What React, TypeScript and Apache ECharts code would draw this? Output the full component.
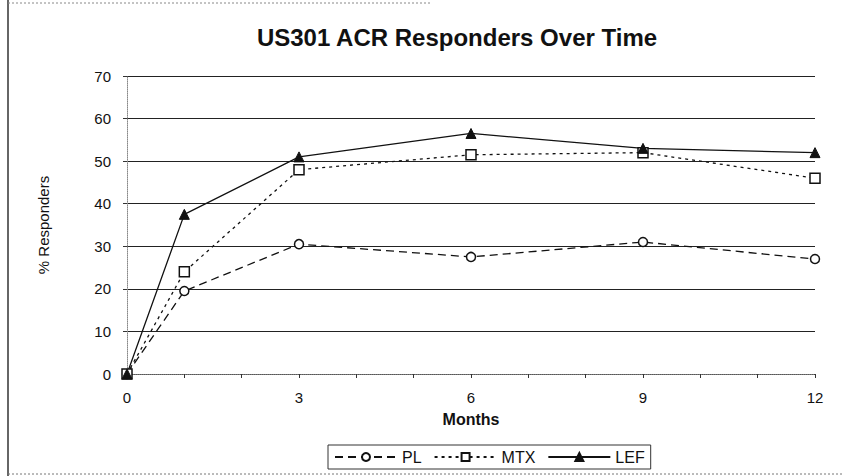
import React, { useEffect, useRef } from "react";
import * as echarts from "echarts";

const months = [0, 1, 3, 6, 9, 12];
const plValues = [0, 19.5, 30.5, 27.5, 31, 27];
const mtxValues = [0, 24, 48, 51.5, 52, 46];
const lefValues = [0, 37.5, 51, 56.5, 53, 52];
const seriesNames = ["PL", "MTX", "LEF"];
const xTickLabels = ["0", "3", "6", "9", "12"];

const FONT = "'Liberation Sans', Arial, sans-serif";

export default function App() {
  const ref = useRef<HTMLDivElement>(null);
  useEffect(() => {
    if (!ref.current) return;
    const chart = echarts.init(ref.current, undefined, { renderer: "svg" });
    const pair = (vals: number[]) => months.map((m, i) => [m, vals[i]]);
    chart.setOption({
      animation: false,
      backgroundColor: "#ffffff",
      textStyle: { fontFamily: FONT, color: "#111" },
      title: {
        text: "US301 ACR Responders Over Time",
        left: 452,
        textAlign: "center",
        top: 20,
        textStyle: { fontFamily: FONT, fontSize: 24, fontWeight: "bold", color: "#111" },
      },
      grid: { left: 127, right: 28, top: 76, bottom: 102 },
      xAxis: {
        type: "value",
        min: 0,
        max: 12,
        interval: 1,
        name: "Months",
        nameLocation: "middle",
        nameGap: 37,
        nameTextStyle: { fontFamily: FONT, fontSize: 16, fontWeight: "bold", color: "#111" },
        axisLine: { show: true, lineStyle: { color: "#777", type: "dotted", width: 1 } },
        axisTick: { show: true, length: 4, inside: false, lineStyle: { color: "#333" } },
        axisLabel: {
          margin: 16,
          fontFamily: FONT,
          fontSize: 15,
          color: "#111",
          formatter: (v: number) => (xTickLabels.includes(String(v)) ? String(v) : ""),
        },
        splitLine: { show: false },
      },
      yAxis: {
        type: "value",
        min: 0,
        max: 70,
        interval: 10,
        name: "% Responders",
        nameLocation: "middle",
        nameGap: 76,
        nameTextStyle: { fontFamily: FONT, fontSize: 15, color: "#111" },
        axisLine: { show: true, lineStyle: { color: "#888", type: "dotted", width: 1 } },
        axisTick: { show: true, length: 4, lineStyle: { color: "#333" } },
        axisLabel: { margin: 16, fontFamily: FONT, fontSize: 15, color: "#111" },
        splitLine: { show: true, lineStyle: { color: "#222", width: 1, type: "solid" } },
      },
      legend: {
        data: seriesNames,
        left: 328,
        top: 445,
        orient: "horizontal",
        itemWidth: 62,
        itemHeight: 10,
        itemGap: 12,
        padding: [4, 6, 4, 6],
        borderColor: "#333",
        borderWidth: 1,
        textStyle: { fontFamily: FONT, fontSize: 16, color: "#111" },
      },
      series: [
        {
          name: seriesNames[0],
          type: "line",
          data: pair(plValues),
          symbol: "circle",
          symbolSize: 9,
          lineStyle: { color: "#111", width: 1.3, type: [8, 5] },
          itemStyle: { color: "#fff", borderColor: "#111", borderWidth: 1.5 },
        },
        {
          name: seriesNames[1],
          type: "line",
          data: pair(mtxValues),
          symbol: "rect",
          symbolSize: 10,
          lineStyle: { color: "#111", width: 1.3, type: [3, 4] },
          itemStyle: { color: "#fff", borderColor: "#111", borderWidth: 1.5 },
        },
        {
          name: seriesNames[2],
          type: "line",
          data: pair(lefValues),
          symbol: "triangle",
          symbolSize: 10,
          lineStyle: { color: "#111", width: 1.3, type: "solid" },
          itemStyle: { color: "#111", borderColor: "#111", borderWidth: 1 },
        },
      ],
      graphic: [
        { type: "line", shape: { x1: 8, y1: 0, x2: 8, y2: 476 }, style: { stroke: "#333", lineWidth: 1.5 } },
        { type: "line", shape: { x1: 8, y1: 3, x2: 430, y2: 3 }, style: { stroke: "#888", lineWidth: 1, lineDash: [2, 2] } },
        { type: "line", shape: { x1: 8, y1: 474, x2: 843, y2: 474 }, style: { stroke: "#777", lineWidth: 1, lineDash: [2, 2] } },
      ],
    });
    return () => chart.dispose();
  }, []);
  return <div ref={ref} style={{ width: 843, height: 476, position: "absolute", left: 0, top: 0 }} />;
}
